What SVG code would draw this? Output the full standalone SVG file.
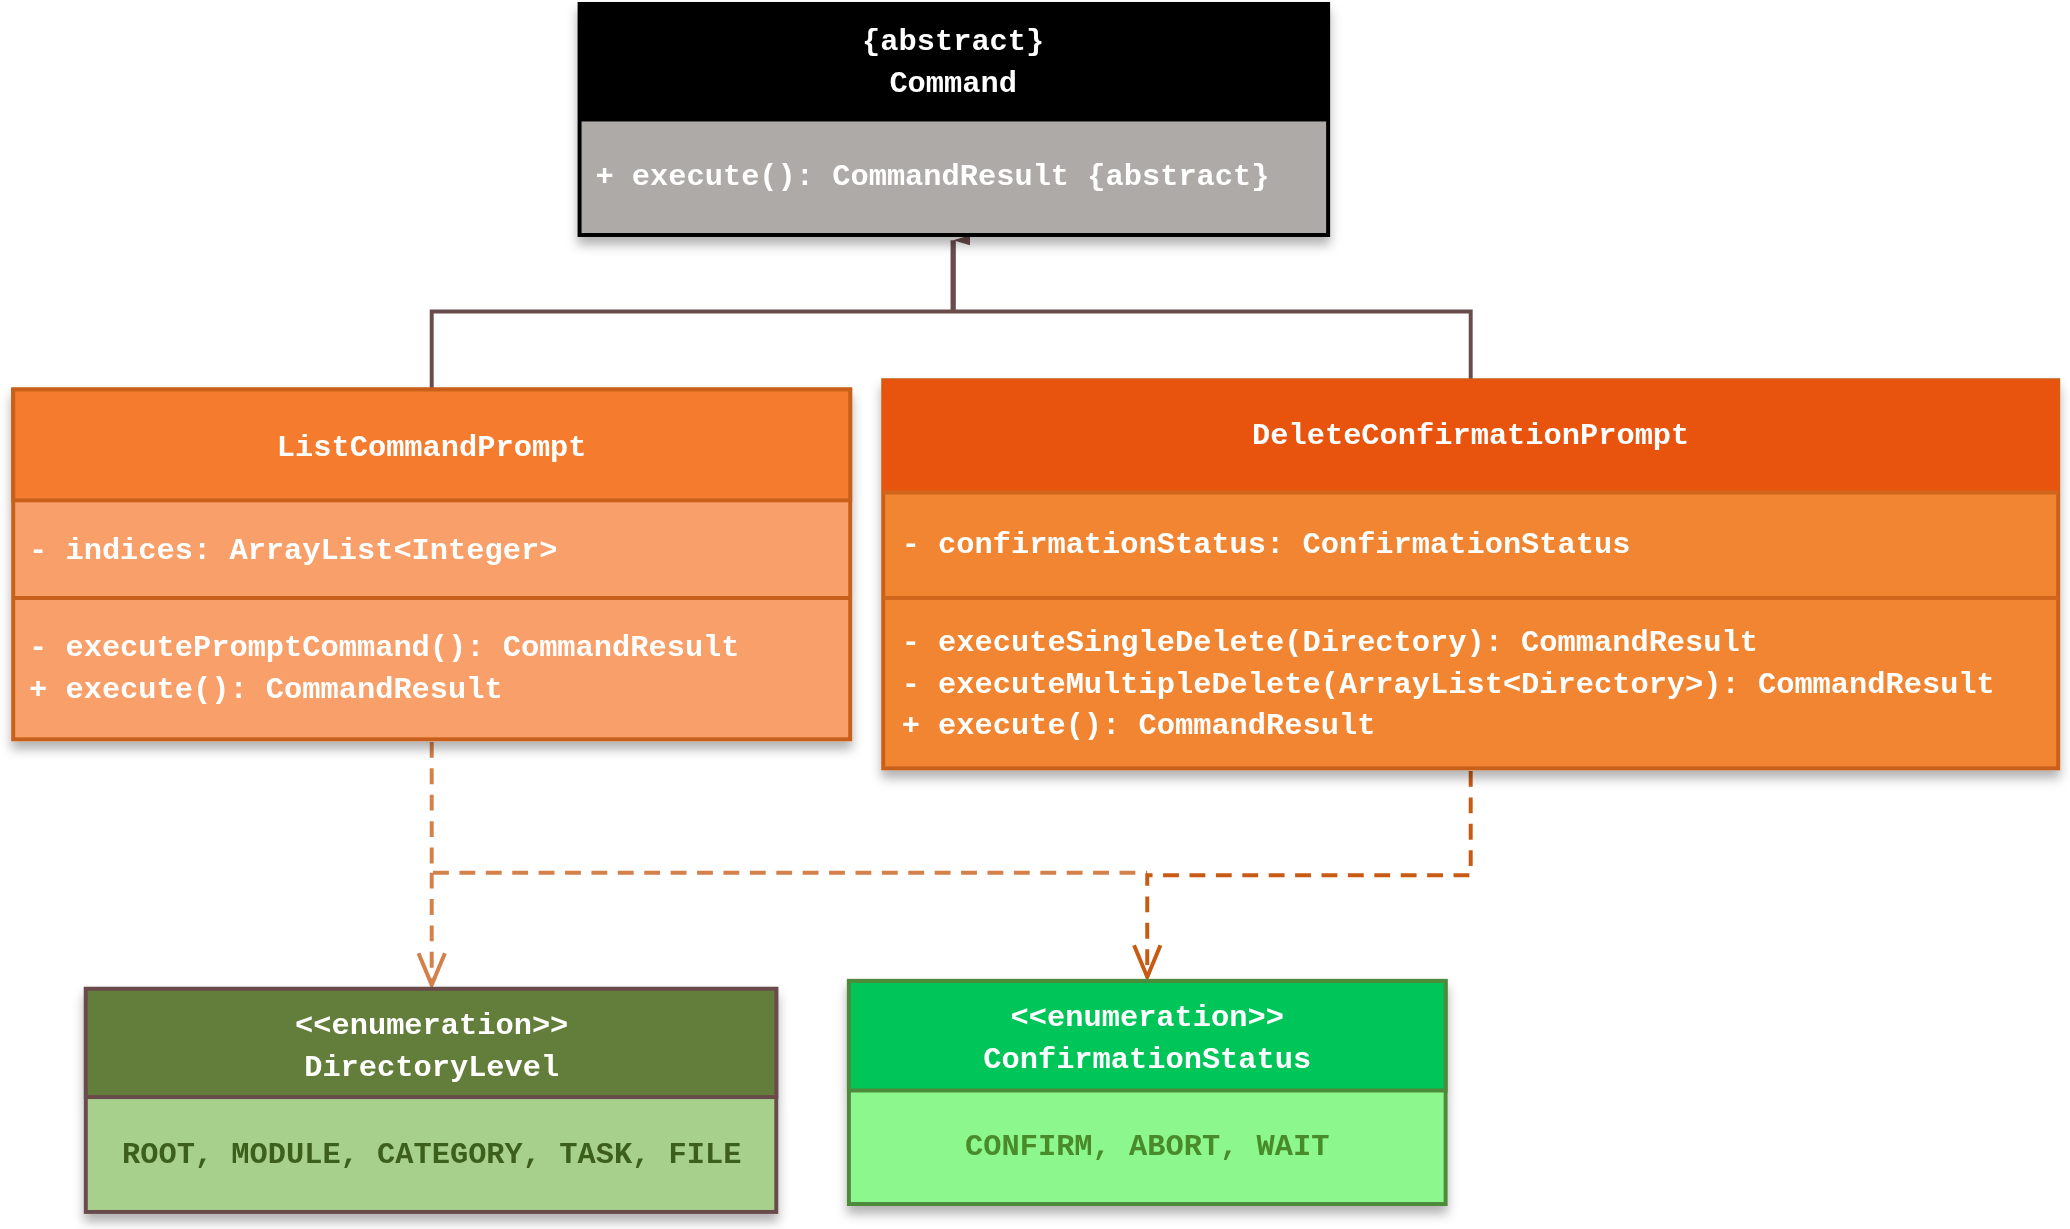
<svg xmlns="http://www.w3.org/2000/svg" width="2070" height="1229" viewBox="0 0 2070 1229">
<defs>
<filter id="sh" x="-5%" y="-5%" width="110%" height="120%"><feDropShadow dx="0" dy="6" stdDeviation="4" flood-color="#000" flood-opacity="0.3"/></filter>
<marker id="tri" markerWidth="12" markerHeight="14" refX="6" refY="0" orient="auto-start-reverse" markerUnits="userSpaceOnUse" viewBox="-1 0 14 14"><path d="M0,20 L6,0 L12,20 Z" fill="#6b4c4c"/></marker>
<marker id="openL" markerWidth="24" markerHeight="30" refX="12" refY="26" viewBox="0 0 24 30" markerUnits="userSpaceOnUse"><path d="M2,2 L12,26 L22,2" fill="none" stroke="#d4804a" stroke-width="3"/></marker>
<marker id="openR" markerWidth="24" markerHeight="30" refX="12" refY="26" viewBox="0 0 24 30" markerUnits="userSpaceOnUse"><path d="M2,2 L12,26 L22,2" fill="none" stroke="#c85a14" stroke-width="3"/></marker>
</defs>
<style>
text{font-family:"Liberation Mono","DejaVu Sans Mono",monospace;font-weight:bold;font-size:23px;fill:#fff;dominant-baseline:central}
.c{text-anchor:middle}
.dk{fill:#3d5e1f}
</style>
<rect width="2070" height="1229" fill="#fff"/>
<g transform="scale(1.3202)">
<g id="connectors" fill="none" stroke-width="3">
<path d="M327,295 V236 H1114 V288" stroke="#6b4c4c"/>
<path d="M722,236 V182" stroke="#6b4c4c" stroke-width="4" marker-end="url(#tri)"/>
<path d="M327,562 V661 H869" stroke="#d4804a" stroke-dasharray="12 8"/>
<path d="M327,661 V746" stroke="#d4804a" stroke-dasharray="12 8" marker-end="url(#openL)"/>
<path d="M1114,584 V663 H869 V740" stroke="#c85a14" stroke-dasharray="12 8" marker-end="url(#openR)"/>
</g>
<g id="Command" filter="url(#sh)">
<rect x="439" y="3" width="567" height="175" fill="#adaaa8" stroke="#000" stroke-width="3"/>
<rect x="439" y="3" width="567" height="89" fill="#000"/>
<text class="c" x="722" y="32">{abstract}</text>
<text class="c" x="722" y="64">Command</text>
<text x="451" y="134">+ execute(): CommandResult {abstract}</text>
</g>
<g id="ListCommandPrompt" filter="url(#sh)">
<rect x="10" y="295" width="634" height="265" fill="#f9a06a" stroke="#c8601a" stroke-width="3"/>
<rect x="10" y="295" width="634" height="84" fill="#f57c2e" stroke="#c8601a" stroke-width="3"/>
<line x1="10" y1="453" x2="644" y2="453" stroke="#c8601a" stroke-width="3"/>
<text class="c" x="327" y="339">ListCommandPrompt</text>
<text x="22" y="417">- indices: ArrayList&lt;Integer&gt;</text>
<text x="22" y="491">- executePromptCommand(): CommandResult</text>
<text x="22" y="523">+ execute(): CommandResult</text>
</g>
<g id="DeleteConfirmationPrompt" filter="url(#sh)">
<rect x="669" y="288" width="890" height="294" fill="#f28530" stroke="#c8601a" stroke-width="3"/>
<rect x="669" y="288" width="890" height="85" fill="#e8530f" stroke="#e8530f" stroke-width="1"/>
<line x1="669" y1="373" x2="1559" y2="373" stroke="#d0651a" stroke-width="3"/>
<line x1="669" y1="453" x2="1559" y2="453" stroke="#d0651a" stroke-width="3"/>
<text class="c" x="1114" y="330">DeleteConfirmationPrompt</text>
<text x="683" y="413">- confirmationStatus: ConfirmationStatus</text>
<text x="683" y="487">- executeSingleDelete(Directory): CommandResult</text>
<text x="683" y="519">- executeMultipleDelete(ArrayList&lt;Directory&gt;): CommandResult</text>
<text x="683" y="550">+ execute(): CommandResult</text>
</g>
<g id="DirectoryLevel" filter="url(#sh)">
<rect x="65" y="749" width="523" height="169" fill="#a8d08d" stroke="#6b4c4c" stroke-width="3"/>
<rect x="65" y="749" width="523" height="82" fill="#637e3a" stroke="#6b4c4c" stroke-width="3"/>
<text class="c" x="327" y="777">&lt;&lt;enumeration&gt;&gt;</text>
<text class="c" x="327" y="809">DirectoryLevel</text>
<text class="c dk" x="327" y="875">ROOT, MODULE, CATEGORY, TASK, FILE</text>
</g>
<g id="ConfirmationStatus" filter="url(#sh)">
<rect x="643" y="743" width="452" height="169" fill="#8cf78c" stroke="#4e8a3a" stroke-width="3"/>
<rect x="643" y="743" width="452" height="83" fill="#00c65a" stroke="#4e8a3a" stroke-width="3"/>
<text class="c" x="869" y="771">&lt;&lt;enumeration&gt;&gt;</text>
<text class="c" x="869" y="803">ConfirmationStatus</text>
<text class="c" x="869" y="869" fill="#4a8a2a" style="fill:#4a8a2a">CONFIRM, ABORT, WAIT</text>
</g>
</g>
</svg>
